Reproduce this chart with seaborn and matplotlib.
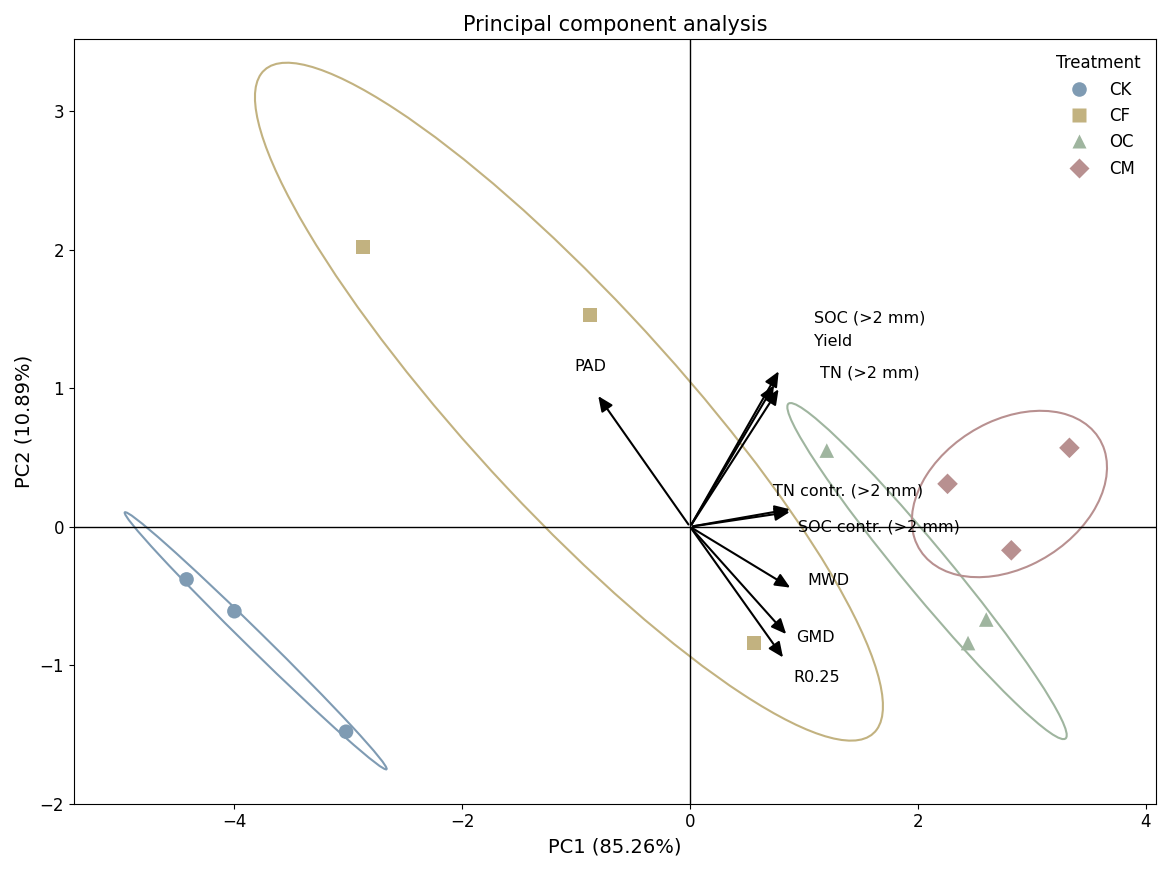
import numpy as np
import pandas as pd
import matplotlib.pyplot as plt
import seaborn as sns
from matplotlib.patches import Ellipse

# ---- data ----
treatments = ["CK", "CK", "CK", "CF", "CF", "CF", "OC", "OC", "OC", "CM", "CM", "CM"]
pc1 = [-4.42, -4.00, -3.02, -2.87, -0.88, 0.56, 1.20, 2.60, 2.44, 2.26, 2.82, 3.33]
pc2 = [-0.38, -0.61, -1.48, 2.02, 1.53, -0.84, 0.55, -0.67, -0.84, 0.31, -0.17, 0.57]

var_names = ["SOC (>2 mm)", "Yield", "TN (>2 mm)", "PAD", "TN contr. (>2 mm)",
             "SOC contr. (>2 mm)", "MWD", "GMD", "R0.25"]
load_x = [0.79, 0.75, 0.79, -0.82, 0.90, 0.90, 0.90, 0.86, 0.83]
load_y = [1.14, 1.04, 1.01, 0.96, 0.13, 0.11, -0.45, -0.79, -0.96]
label_x = [1.09, 1.09, 1.14, -1.02, 0.73, 0.95, 1.03, 0.93, 0.91]
label_y = [1.51, 1.34, 1.11, 1.16, 0.26, 0.00, -0.39, -0.80, -1.09]

order = ["CK", "CF", "OC", "CM"]
palette = {"CK": "#7f9bb3", "CF": "#c2b280", "OC": "#9fb59f", "CM": "#b89090"}
markers = {"CK": "o", "CF": "s", "OC": "^", "CM": "D"}

df = pd.DataFrame({"PC1": pc1, "PC2": pc2, "Treatment": treatments})

fig, ax = plt.subplots(figsize=(11.71, 8.71), dpi=100)

ax.axhline(0, color="black", lw=1)
ax.axvline(0, color="black", lw=1)

# confidence ellipses
for t in order:
    sub = df[df.Treatment == t]
    cov = np.cov(sub.PC1, sub.PC2, ddof=0)
    vals, vecs = np.linalg.eigh(cov)
    angle = np.degrees(np.arctan2(vecs[1, 1], vecs[0, 1]))
    w, h = 2 * 1.96 * np.sqrt(vals[::-1])
    ax.add_patch(Ellipse((sub.PC1.mean(), sub.PC2.mean()), w, h, angle=angle,
                         fill=False, edgecolor=palette[t], lw=1.5))

sns.scatterplot(data=df, x="PC1", y="PC2", hue="Treatment", style="Treatment",
                hue_order=order, style_order=order, palette=palette,
                markers=markers, s=110, edgecolor="none", ax=ax, zorder=3)

for i, name in enumerate(var_names):
    ax.annotate("", xy=(load_x[i], load_y[i]), xytext=(0, 0),
                arrowprops=dict(arrowstyle="-|>,head_width=0.4,head_length=0.9",
                                color="black", lw=1.5))
    ax.text(label_x[i], label_y[i], name, fontsize=11.5, va="center", ha="left")

ax.set_xlim(-5.41, 4.09)
ax.set_ylim(-2.0, 3.52)
ax.set_xlabel("PC1 (85.26%)", fontsize=14)
ax.set_ylabel("PC2 (10.89%)", fontsize=14)
ax.set_title("Principal component analysis", fontsize=15)
ax.tick_params(labelsize=12)
leg = ax.legend(title="Treatment", frameon=False, fontsize=12, title_fontsize=12,
                loc="upper right")

plt.tight_layout()
plt.savefig("out.png", dpi=100)
